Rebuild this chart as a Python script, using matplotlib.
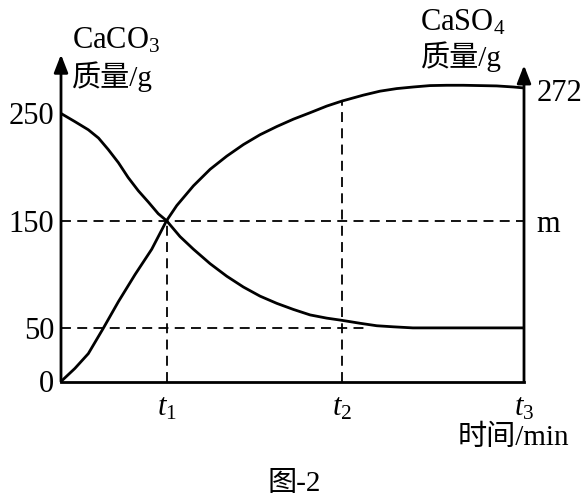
import matplotlib
matplotlib.use("Agg")
import matplotlib.pyplot as plt

# 时间 (x 轴, t3 = 100), 质量 (g)
t1, t2, t3 = 22.8, 60.7, 100
caco3_x = [0, 3.0, 5.9, 8.1, 10.2, 12.4, 14.5, 16.7, 18.9, 21.0, 22.8, 25.7, 28.6, 32.2,
           35.8, 39.4, 43.0, 46.6, 50.2, 53.8, 57.4, 60.6, 64.6, 68.2, 71.8, 76.0, 100]
caco3_y = [250, 242.4, 234.8, 227.1, 216.4, 204.1, 190.3, 177.9, 167.2, 156.5, 150, 135.2, 123.4, 109.9,
           98.2, 88.1, 79.6, 72.9, 67.2, 62.1, 59.1, 57.1, 54.3, 52.0, 51.0, 50, 50]
caso4_x = [0, 3.0, 5.9, 9.1, 12.4, 16.0, 19.6, 22.8, 25.0, 28.6, 32.2, 35.8, 39.4, 43.0, 46.6,
           50.2, 53.8, 57.4, 60.7, 65.3, 68.9, 72.5, 76.1, 79.7, 83.3, 86.9, 90.5, 94.1, 97.7, 100]
caso4_y = [0, 12.2, 26.0, 49.4, 74.5, 99.8, 123.4, 150, 164.1, 182.5, 197.9, 210.2, 221.0, 230.2, 237.8,
           244.7, 250.7, 256.9, 261.6, 267.1, 270.8, 273.2, 274.7, 276.0, 276.3, 276.3, 276.0, 275.7, 274.7, 273.8]
left_ticks = [0, 50, 150, 250]
right_ticks = [150, 272]
right_labels = ["m", "272"]
x_ticks = [t1, t2, t3]
x_labels = ["$t_1$", "$t_2$", "$t_3$"]

plt.rcParams['font.family'] = ['Liberation Serif', 'Noto Sans CJK SC']
plt.rcParams['mathtext.fontset'] = 'custom'
plt.rcParams['mathtext.rm'] = 'Liberation Serif'
plt.rcParams['mathtext.it'] = 'Liberation Serif:italic'

W, H = 587, 503
fig = plt.figure(figsize=(W / 100, H / 100), dpi=100)
ax = fig.add_axes([61 / W, 1 - 381.5 / H, 463 / W, 327 / H])
ax.set_xlim(0, t3)
ax.set_ylim(0, 305)

for s in ['top', 'left', 'right']:
    ax.spines[s].set_visible(False)
ax.spines['bottom'].set_linewidth(2.0)

# 虚线
dash = dict(color='black', lw=1.3, dashes=(5.5, 3.5))
ax.plot([0, t3], [150, 150], **dash)
ax.plot([0, 65.7], [50, 50], **dash)
ax.plot([t1, t1], [0, 150], **dash)
ax.plot([t2, t2], [0, caso4_y[caso4_x.index(t2)]], **dash)

ax.plot(caco3_x, caco3_y, color='black', lw=2.0, solid_joinstyle='round')
ax.plot(caso4_x, caso4_y, color='black', lw=2.0, solid_joinstyle='round')

arrow = dict(arrowstyle='-|>,head_length=0.9,head_width=0.35', color='black',
             lw=2.0, shrinkA=0, shrinkB=0, mutation_scale=12)
ax.annotate('', xy=(0, 305), xytext=(0, 0), arrowprops=arrow, annotation_clip=False)
ax.annotate('', xy=(t3, 295), xytext=(t3, 0), arrowprops=arrow, annotation_clip=False)

ax.set_yticks(left_ticks)
ax.set_yticklabels([str(v) for v in left_ticks], fontsize=22)
ax.tick_params(axis='y', length=0, pad=5)
ax.set_xticks(x_ticks)
ax.set_xticklabels(x_labels, fontsize=22)
ax.tick_params(axis='x', length=0, pad=9)

ax2 = ax.twinx()
ax2.set_ylim(ax.get_ylim())
for s in ['top', 'left', 'right', 'bottom']:
    ax2.spines[s].set_visible(False)
ax2.set_yticks(right_ticks)
ax2.set_yticklabels(right_labels, fontsize=22)
ax2.tick_params(axis='y', length=0, pad=9)

def ftext(x, y, s, **kw):
    fig.text(x / W, 1 - y / H, s, **kw)

ftext(72, 41, "CaCO$_3$", fontsize=22, ha='left', va='center')
ftext(72, 77, "质量/g", fontsize=21, ha='left', va='center')
ftext(463, 23, "CaSO$_4$", fontsize=22, ha='center', va='center')
ftext(461, 57, "质量/g", fontsize=21, ha='center', va='center')
ftext(513, 438, "时间/min", fontsize=21, ha='center', va='center')
ftext(294, 484, "图-2", fontsize=21, ha='center', va='center')

fig.savefig("out.png", dpi=100)
